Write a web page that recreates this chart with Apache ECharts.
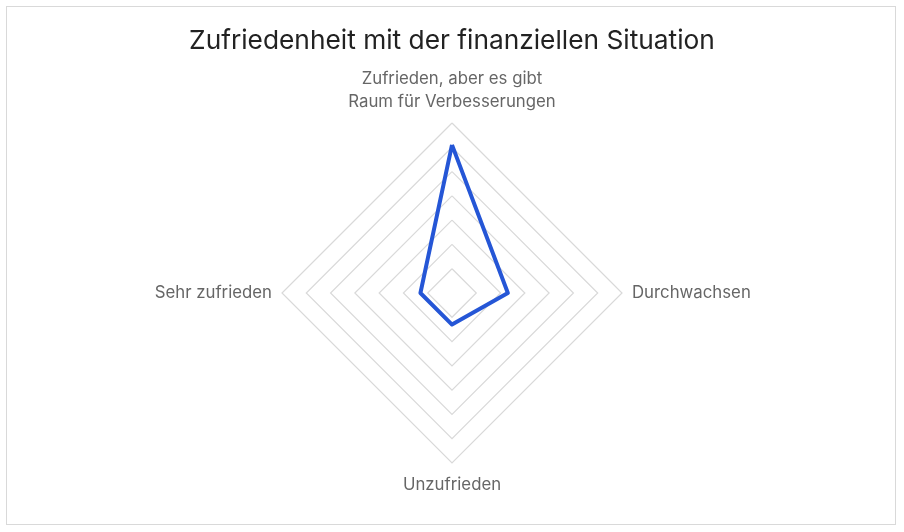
<!DOCTYPE html>
<html>
<head>
<meta charset="utf-8">
<script src="https://cdn.jsdelivr.net/npm/echarts@6/dist/echarts.min.js"></script>
<style>
html,body{margin:0;padding:0;background:#fff;}
#frame{position:absolute;left:6px;top:6px;width:890px;height:519px;border:1px solid #d9d9d9;box-sizing:border-box;}
#chart{position:absolute;left:0;top:0;width:904px;height:532px;}
</style>
</head>
<body>
<div id="frame"></div>
<div id="chart"></div>
<script>
const title = "Zufriedenheit mit der finanziellen Situation";
const categories = ["Zufrieden, aber es gibt\nRaum für Verbesserungen", "Sehr zufrieden", "Unzufrieden", "Durchwachsen"];
const values = [61, 13, 13, 23];
const axisMax = 70;
const splitCount = 7;

const chart = echarts.init(document.getElementById('chart'));
chart.setOption({
  animation: false,
  title: {
    text: title,
    left: 'center',
    top: 23,
    textStyle: { fontFamily: 'Inter, "Noto Sans", sans-serif', fontSize: 26.3, fontWeight: 'normal', color: '#222' }
  },
  radar: {
    center: [452, 293],
    radius: 170,
    shape: 'polygon',
    splitNumber: splitCount,
    nameGap: 10,
    axisName: { color: '#666', fontSize: 16.8, fontFamily: 'Inter, "Noto Sans", sans-serif', lineHeight: 23 },
    axisLine: { show: false },
    splitArea: { show: false },
    splitLine: { lineStyle: { color: '#d9d9d9', width: 1.2 } },
    indicator: categories.map(n => ({ name: n, max: axisMax, min: 0 }))
  },
  series: [{
    type: 'radar',
    symbol: 'none',
    lineStyle: { color: '#2556d6', width: 4, join: 'round' },
    data: [{ value: values }]
  }]
});
</script>
</body>
</html>
